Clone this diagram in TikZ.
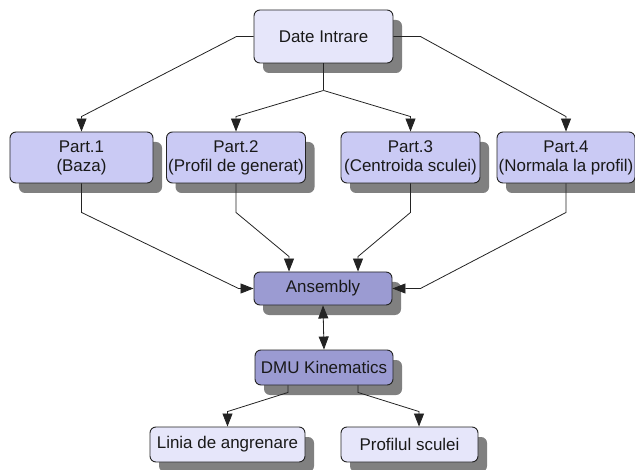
\documentclass[tikz,border=0pt]{standalone}
\usepackage{fontspec}
\setmainfont{Liberation Sans}
\usetikzlibrary{arrows.meta,shadows,calc}
\definecolor{lightfill}{RGB}{230,230,250}
\definecolor{midfill}{RGB}{202,202,244}
\definecolor{darkfill}{RGB}{155,155,210}
\definecolor{shadowgray}{RGB}{128,128,128}
\definecolor{linecol}{RGB}{35,35,35}
\tikzset{
  boxbase/.style={draw=linecol, line width=0.9bp, rounded corners=6bp, align=center,
    inner sep=0pt, font=\fontsize{17}{19}\selectfont, text=black!90,
    drop shadow={shadow xshift=9bp, shadow yshift=-10bp, fill=shadowgray, opacity=1}},
  lightbox/.style={boxbase, fill=lightfill},
  midbox/.style={boxbase, fill=midfill},
  darkbox/.style={boxbase, fill=darkfill},
  conn/.style={draw=linecol, line width=0.8bp},
  arr/.style={conn, -{Triangle[length=13bp,width=10bp]}},
  darr/.style={conn, {Triangle[length=13bp,width=10bp]}-{Triangle[length=13bp,width=10bp]}}
}
\begin{document}
\begin{tikzpicture}[x=1bp,y=-1bp]
\useasboundingbox (0,0) rectangle (635,470);
\node[lightbox, minimum width=139bp, minimum height=53bp] (date) at (323.5,36.5) {Date Intrare};
\node[midbox, minimum width=143bp, minimum height=51bp] (p1) at (81.5,157.5) {Part.1\\(Baza)};
\node[midbox, minimum width=139bp, minimum height=51bp] (p2) at (236,157.5) {Part.2\\(Profil de generat)};
\node[midbox, minimum width=139bp, minimum height=51bp] (p3) at (410.5,157.5) {Part.3\\(Centroida sculei)};
\node[midbox, minimum width=138bp, minimum height=51bp] (p4) at (566,157.5) {Part.4\\(Normala la profil)};
\node[darkbox, minimum width=138bp, minimum height=33bp] (asm) at (323,288.5) {Ansembly};
\node[darkbox, minimum width=138bp, minimum height=35bp] (dmu) at (324,367.5) {DMU Kinematics};
\node[lightbox, minimum width=155bp, minimum height=35bp] (lin) at (227.5,444.5) {Linia de angrenare};
\node[lightbox, minimum width=137bp, minimum height=35bp] (prof) at (409.5,444.5) {Profilul sculei};

% from Date Intrare
\coordinate (dl) at ($(date.west)+(-17,0)$);
\coordinate (dr) at ($(date.east)+(27,0)$);
\coordinate (db) at ($(date.south)+(0,27)$);
\draw[arr] (date.west) -- (dl) -- ($(p1.north)+(0,-15)$) -- (p1.north);
\draw[arr] (date.east) -- (dr) -- ($(p4.north)+(0,-15)$) -- (p4.north);
\draw[conn] (date.south) -- (db);
\draw[arr] (db) -- ($(p2.north)+(0,-15)$) -- (p2.north);
\draw[arr] (db) -- ($(p3.north)+(0,-15)$) -- (p3.north);

% to Ansembly
\draw[arr] (p1.south) -- ($(p1.south)+(0,29)$) -- ($(asm.west)+(-15,0)$) -- (asm.west);
\draw[arr] (p2.south) -- ($(p2.south)+(0,29)$) -- ($(asm.north)+(-34,-15)$) -- ($(asm.north)+(-34,0)$);
\draw[arr] (p3.south) -- ($(p3.south)+(0,29)$) -- ($(asm.north)+(35,-15)$) -- ($(asm.north)+(35,0)$);
\draw[arr] (p4.south) -- ($(p4.south)+(0,29)$) -- ($(asm.east)+(28,0)$) -- (asm.east);

% Ansembly <-> DMU
\draw[darr] (asm.south) -- (dmu.north);

% from DMU
\draw[arr] ($(dmu.south)+(-36,0)$) -- ($(dmu.south)+(-36,7)$) -- ($(lin.north)+(0,-15)$) -- (lin.north);
\draw[arr] ($(dmu.south)+(34,0)$) -- ($(dmu.south)+(34,7)$) -- ($(prof.north)+(9.5,-15)$) -- ($(prof.north)+(9.5,0)$);
\end{tikzpicture}
\end{document}
